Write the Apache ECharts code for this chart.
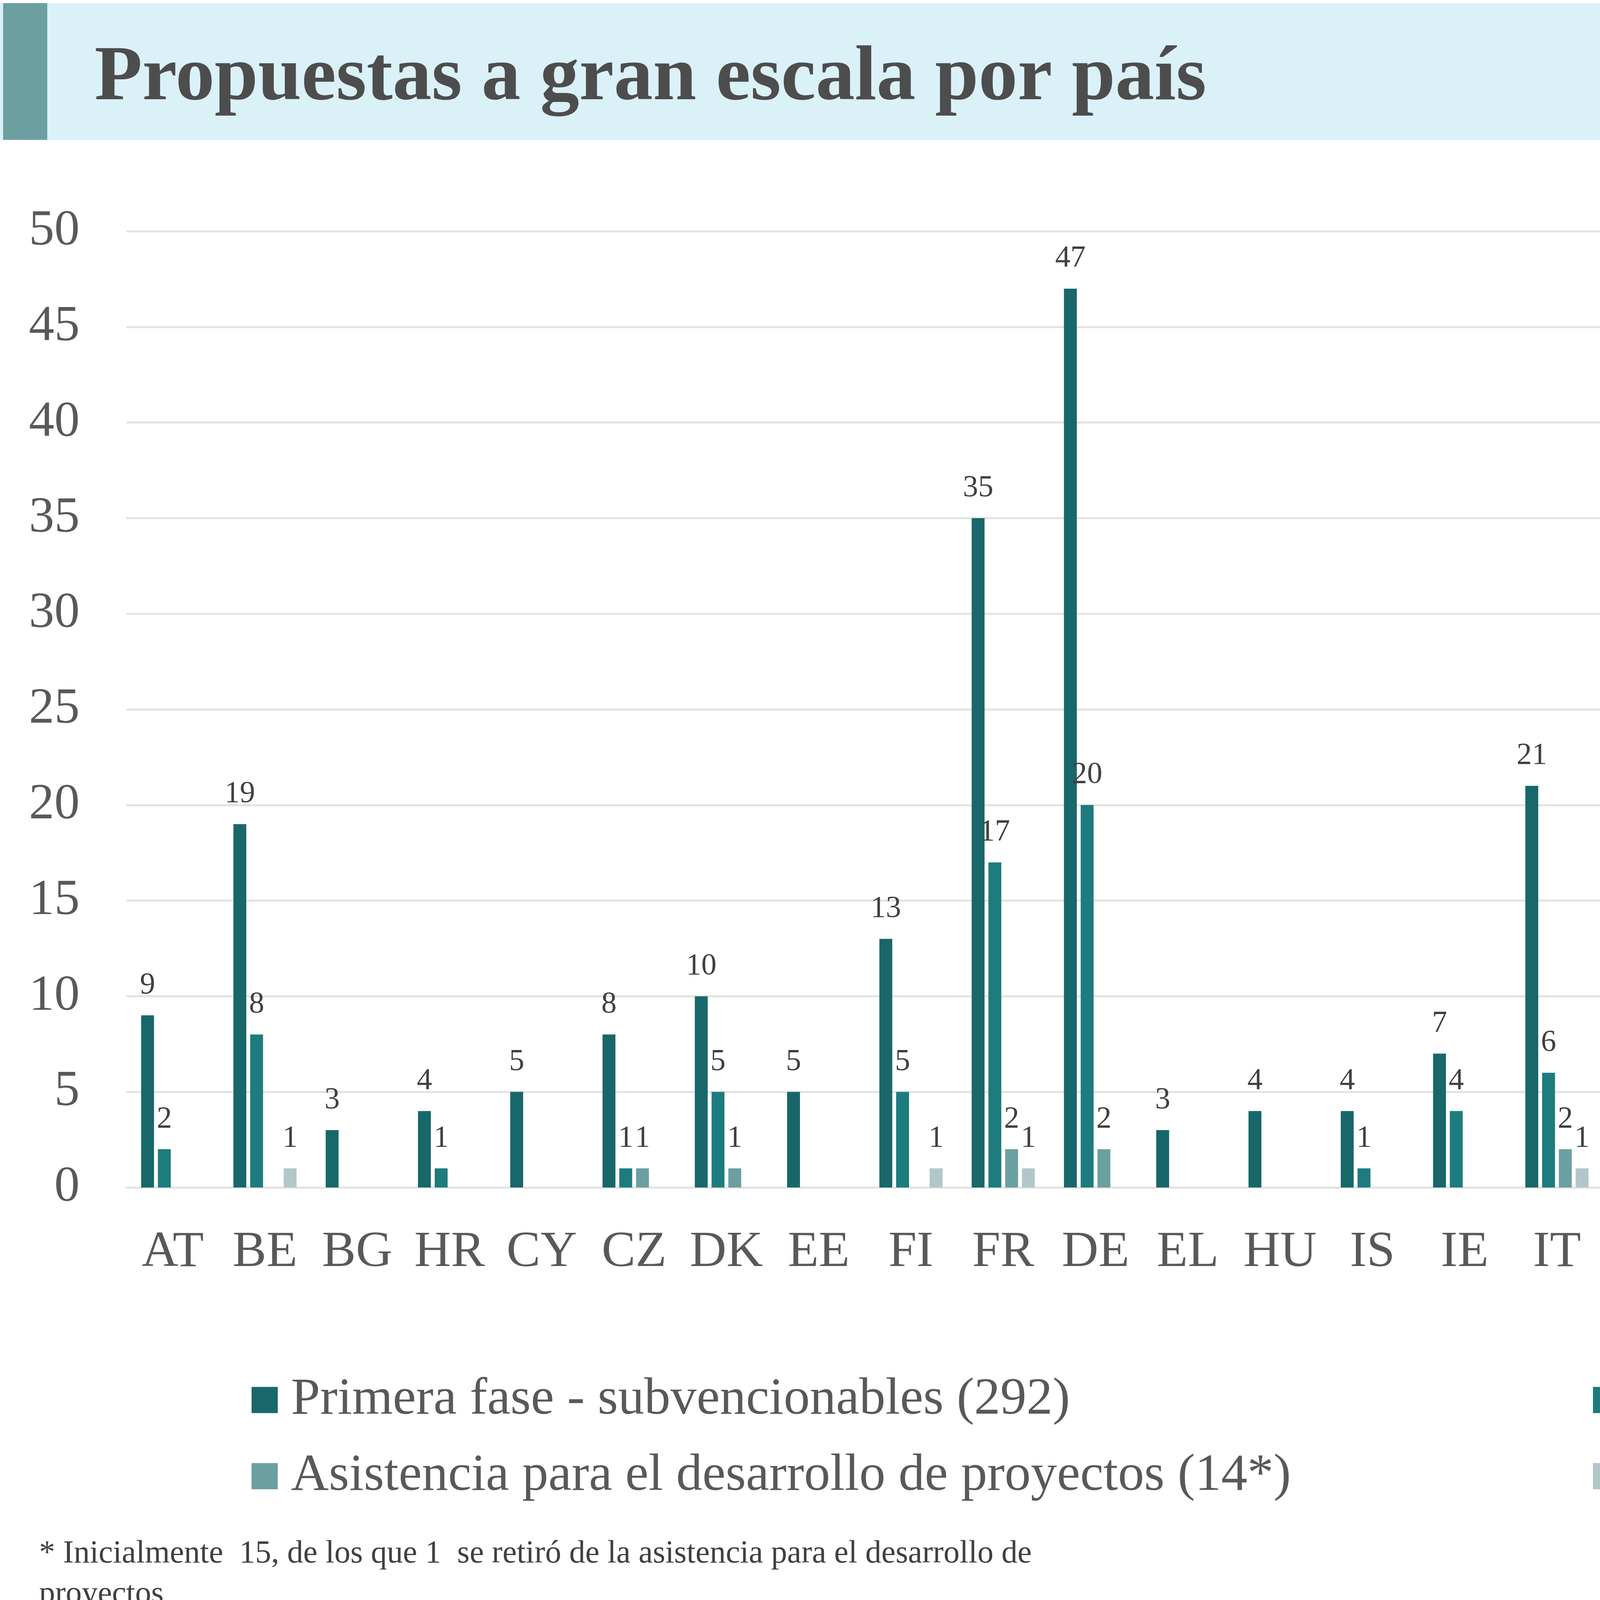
<!DOCTYPE html>
<html>
<head>
<meta charset="utf-8">
<title>Propuestas a gran escala por país</title>
<script src="https://cdn.jsdelivr.net/npm/echarts@6.0.0/dist/echarts.min.js"></script>
<style>
  html, body { margin: 0; padding: 0; background: #ffffff; }
  #chart { width: 7832px; height: 4223px; }
</style>
</head>
<body>
<div id="chart"></div>
<script>
// data
const countries = ['AT', 'BE', 'BG', 'HR', 'CY', 'CZ', 'DK', 'EE', 'FI', 'FR', 'DE', 'EL', 'HU', 'IS', 'IE',
  'IT', 'LV', 'LT', 'LU', 'MT', 'NL', 'NO', 'PL', 'PT', 'RO', 'SK', 'SI', 'ES', 'SE'];
const subvencionables = [9, 19, 3, 4, 5, 8, 10, 5, 13, 35, 47, 3, 4, 4, 7, 21, 0, 2, 0, 1, 35, 14, 7, 12, 5, 3, 4, 41, 15];
const encimaUmbral = [2, 8, 0, 1, 0, 1, 5, 0, 5, 17, 20, 0, 0, 1, 4, 6, 0, 0, 0, 1, 16, 7, 3, 1, 0, 1, 0, 17, 11];
const asistencia = [0, 0, 0, 0, 0, 1, 1, 0, 0, 2, 2, 0, 0, 0, 0, 2, 0, 0, 0, 0, 3, 2, 0, 1, 0, 0, 0, 3, 0];
const preseleccionados = [0, 1, 0, 0, 0, 0, 0, 0, 1, 1, 0, 0, 0, 0, 0, 1, 0, 0, 0, 0, 0, 0, 0, 0, 0, 0, 0, 1, 2];

const seriesNames = [
  'Primera fase - subvencionables (292)',
  'Primera fase - por encima del umbral (117)',
  'Asistencia para el desarrollo de proyectos (14*)',
  'Proyectos preseleccionados (7)'
];
const yMin = 0, yMax = 50, yStep = 5;

const titleText = 'Propuestas a gran escala por país';
const noteStar = '* Inicialmente  15, de los que 1  se retiró de la asistencia para el desarrollo de';
const noteWrap = 'proyectos';
const noteMain = 'Nota: Algunas propuestas se localizan en más de un país. Los resultados se basan en los países de aplicación seleccionados por los solicitantes en el formulario C, adaptados en caso necesario.';

const colors = ['#18676A', '#1D7C7E', '#6B9FA0', '#B1C7CA'];
const serif = "'Liberation Serif', 'Times New Roman', serif";

const chart = echarts.init(document.getElementById('chart'));

function barSeries(name, data, color) {
  return {
    name: name,
    type: 'bar',
    data: data,
    barWidth: 33,
    barGap: '30%',
    itemStyle: { color: color },
    label: {
      show: true,
      position: 'top',
      distance: 38,
      fontFamily: serif,
      fontSize: 78,
      color: '#404040',
      formatter: p => (p.value ? String(p.value) : '')
    },
    animation: false
  };
}

// one legend per item so the two columns line up like the original
function legendItem(name, left, top) {
  return {
    data: [name],
    left: left,
    top: top,
    padding: 0,
    icon: 'rect',
    itemWidth: 67,
    itemHeight: 67,
    selectedMode: false,
    textStyle: {
      fontFamily: serif,
      fontSize: 134,
      color: '#595959',
      lineHeight: 67,
      padding: [0, 0, 0, 29]
    }
  };
}

function note(text, y) {
  return {
    type: 'text', x: 100, y: y,
    style: { text: text, font: '82px ' + serif, fill: '#404040', verticalAlign: 'middle' }
  };
}

chart.setOption({
  backgroundColor: '#ffffff',
  animation: false,
  color: colors,
  graphic: [
    { type: 'rect', shape: { x: 0, y: 8, width: 7254, height: 350 }, style: { fill: '#DAF1F7' } },
    { type: 'rect', shape: { x: 8, y: 8, width: 113, height: 350 }, style: { fill: '#6B9FA0' } },
    {
      type: 'text', x: 242, y: 202,
      style: { text: titleText, font: 'bold 200px ' + serif, fill: '#4D4D4D', verticalAlign: 'middle' }
    },
    note(noteStar, 3978),
    note(noteWrap, 4082),
    note(noteMain, 4142)
  ],
  legend: [
    legendItem(seriesNames[0], 644, 3517),
    legendItem(seriesNames[1], 4078, 3517),
    legendItem(seriesNames[2], 644, 3712),
    legendItem(seriesNames[3], 4078, 3712)
  ],
  grid: { left: 324, right: 657, top: 592, bottom: 1183, containLabel: false },
  xAxis: {
    type: 'category',
    data: countries,
    axisLine: { show: true, lineStyle: { color: '#E2E2E2', width: 5 } },
    axisTick: { show: false },
    axisLabel: { interval: 0, fontFamily: serif, fontSize: 130, color: '#595959', margin: 102 }
  },
  yAxis: {
    type: 'value',
    min: yMin,
    max: yMax,
    interval: yStep,
    axisLine: { show: false },
    axisTick: { show: false },
    splitLine: { lineStyle: { color: '#E2E2E2', width: 5 } },
    axisLabel: { fontFamily: serif, fontSize: 130, color: '#595959', margin: 120 }
  },
  series: [
    barSeries(seriesNames[0], subvencionables, colors[0]),
    barSeries(seriesNames[1], encimaUmbral, colors[1]),
    barSeries(seriesNames[2], asistencia, colors[2]),
    barSeries(seriesNames[3], preseleccionados, colors[3])
  ]
});
</script>
</body>
</html>
